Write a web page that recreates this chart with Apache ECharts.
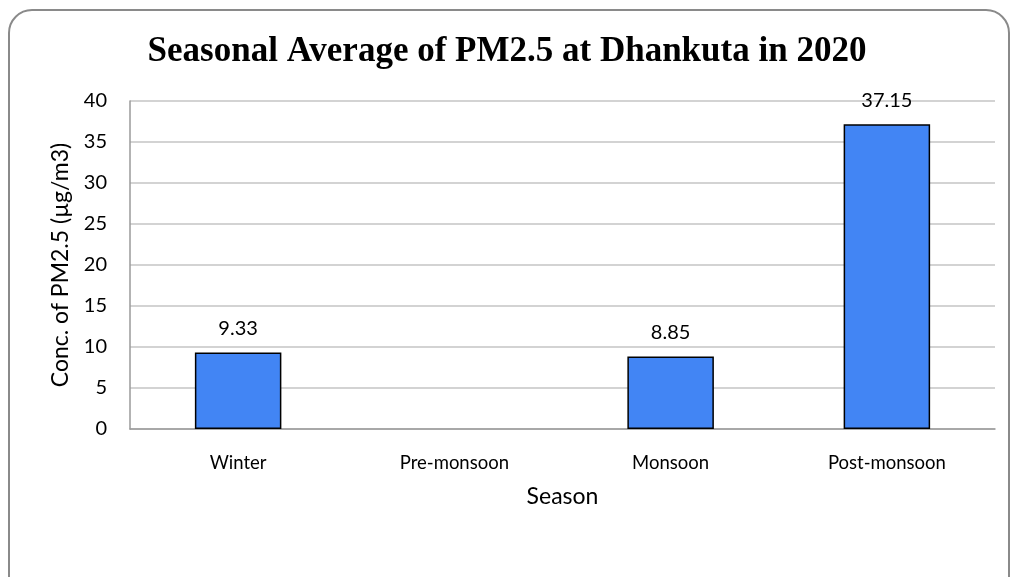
<!DOCTYPE html>
<html style="height: 100%">
<head>
<meta charset="utf-8">
<script src="https://cdn.jsdelivr.net/npm/echarts@6/dist/echarts.min.js"></script>
<title>Seasonal Average of PM2.5</title>
</head>
<body style="height: 100%; margin: 0; background: #fff">
<div id="frame" style="position: absolute; left: 8px; top: 9px; width: 1002px; height: 600px; border: 2px solid #8a8a8a; border-radius: 24px; box-sizing: border-box"></div>
<div id="container" style="position: absolute; left: 0; top: 0; width: 1014px; height: 577px"></div>
<script type="text/javascript">
const seasons = ['Winter', 'Pre-monsoon', 'Monsoon', 'Post-monsoon'];
const pm25 = [9.33, null, 8.85, 37.15];

let chart = echarts.init(document.getElementById('container'));
chart.setOption({
  title: {
    text: 'Seasonal Average of PM2.5 at Dhankuta in 2020',
    left: 'center',
    top: 29,
    textStyle: { fontFamily: 'Liberation Serif', fontWeight: 'bold', fontSize: 35, color: '#000' }
  },
  grid: { left: 130, right: 19, top: 101, bottom: 148 },
  xAxis: {
    type: 'category',
    data: seasons,
    name: 'Season',
    nameLocation: 'middle',
    nameGap: 56,
    nameTextStyle: { fontFamily: 'Lato', fontSize: 23, color: '#000' },
    axisLine: { lineStyle: { color: '#9a9a9a', width: 1.5 } },
    axisTick: { show: false },
    axisLabel: { fontFamily: 'Lato', fontSize: 18.5, color: '#000', margin: 25 }
  },
  yAxis: {
    type: 'value',
    min: 0,
    max: 40,
    interval: 5,
    name: 'Conc. of PM2.5 (µg/m3)',
    nameLocation: 'middle',
    nameGap: 58,
    nameTextStyle: { fontFamily: 'Lato', fontSize: 23, color: '#000' },
    axisLine: { show: true, lineStyle: { color: '#9a9a9a', width: 1.5 } },
    axisTick: { show: false },
    axisLabel: { fontFamily: 'Lato', fontSize: 20, color: '#000', margin: 23 },
    splitLine: { lineStyle: { color: '#c4c4c4', width: 1.5 } }
  },
  series: [{
    type: 'bar',
    data: pm25,
    barWidth: '40%',
    itemStyle: { color: '#4285f4', borderColor: '#000', borderWidth: 1.5 },
    label: { show: true, position: 'top', distance: 14, fontFamily: 'Lato', fontSize: 20, color: '#000' }
  }]
});
</script>
</body>
</html>
